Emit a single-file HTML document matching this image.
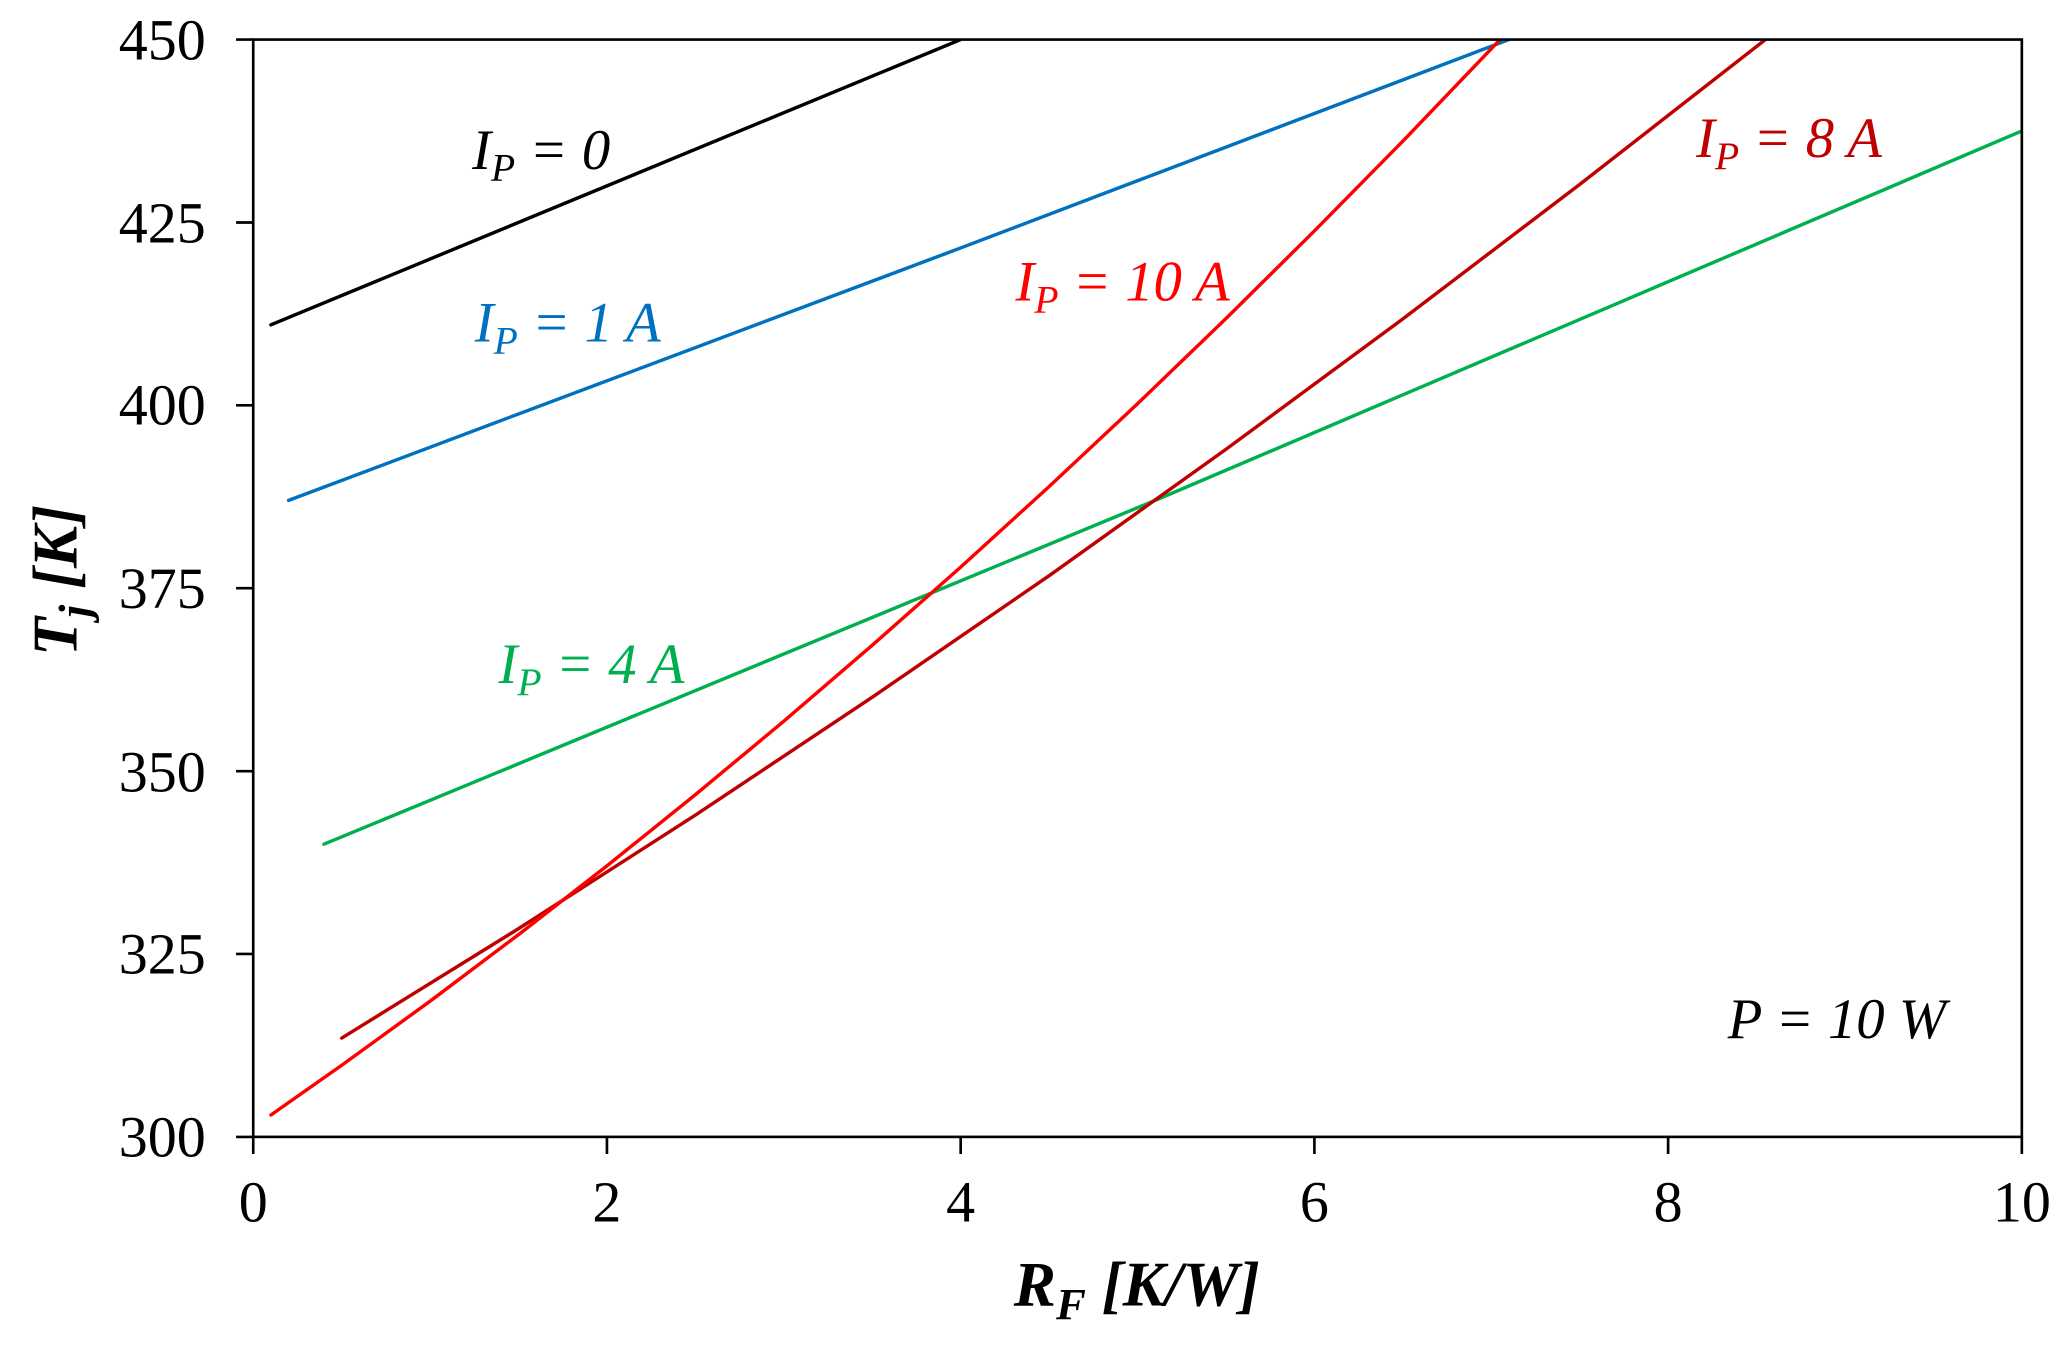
<!DOCTYPE html>
<html><head><meta charset="utf-8"><style>html,body{margin:0;padding:0;background:#fff}</style></head>
<body>
<svg width="2068" height="1340" viewBox="0 0 1568 1016" preserveAspectRatio="none" xmlns="http://www.w3.org/2000/svg" style="font-family:'Liberation Serif',serif">
<rect width="1568" height="1016" fill="#fff"/>
<defs><clipPath id="c"><rect x="192" y="30" width="1341" height="832"/></clipPath></defs>
<g clip-path="url(#c)" fill="none" stroke-width="2.6" stroke-linejoin="round" stroke-linecap="round">
<polyline stroke="#000" points="205.4,246.3 728.4,30"/>
<polyline stroke="#0070c0" points="218.8,379.4 728.4,188 1144.1,30"/>
<polyline stroke="#00b050" points="245.6,640.1 875.9,379.4 1533,99.3"/>
<polyline stroke="#c00000" points="259.1,787.1 393.2,704.1 527.3,618 661.4,528.6 795.5,436.5 929.6,340.6 1063.7,241.8 1197.8,139.8 1338.6,30"/>
<polyline stroke="#ff0000" points="205.4,845.4 259.1,807.7 326.1,759.1 393.2,708.6 460.2,656.5 527.3,602.5 594.3,546.8 661.4,489.2 728.4,430 795.5,368.9 862.5,306.1 929.6,241.5 996.6,175.1 1063.7,107 1137.4,30"/>
</g>
<g stroke="#000" stroke-width="2" fill="none">
<rect x="192" y="30" width="1341" height="832"/>
<path d="M179 30H192M179 168.7H192M179 307.3H192M179 446H192M179 584.7H192M179 723.3H192M179 862H192"/>
<path d="M192 862V875M460.2 862V875M728.4 862V875M996.6 862V875M1264.8 862V875M1533 862V875"/>
</g>
<g font-size="44" text-anchor="end" fill="#000">
<text x="156" y="45">450</text><text x="156" y="184">425</text><text x="156" y="322">400</text>
<text x="156" y="461">375</text><text x="156" y="600">350</text><text x="156" y="738">325</text><text x="156" y="877">300</text>
</g>
<g font-size="44" text-anchor="middle" fill="#000">
<text x="192" y="926">0</text><text x="460.2" y="926">2</text><text x="728.4" y="926">4</text>
<text x="996.6" y="926">6</text><text x="1264.8" y="926">8</text><text x="1533" y="926">10</text>
</g>
<text x="862" y="990" font-size="48" font-weight="bold" font-style="italic" text-anchor="middle">R<tspan font-size="34" dy="10">F</tspan><tspan dy="-10"> [K/W]</tspan></text>
<text transform="translate(58,440) rotate(-90)" font-size="48" font-weight="bold" font-style="italic" text-anchor="middle">T<tspan font-size="34" dy="10">j</tspan><tspan dy="-10"> [K]</tspan></text>
<g font-size="43" font-style="italic">
<text x="358" y="128" fill="#000">I<tspan font-size="30" dy="9">P</tspan><tspan dy="-9"> = 0</tspan></text>
<text x="360" y="259" fill="#0070c0">I<tspan font-size="30" dy="9">P</tspan><tspan dy="-9"> = 1 A</tspan></text>
<text x="770" y="228" fill="#ff0000">I<tspan font-size="30" dy="9">P</tspan><tspan dy="-9"> = 10 A</tspan></text>
<text x="1286" y="119" fill="#c00000">I<tspan font-size="30" dy="9">P</tspan><tspan dy="-9"> = 8 A</tspan></text>
<text x="378" y="518" fill="#00b050">I<tspan font-size="30" dy="9">P</tspan><tspan dy="-9"> = 4 A</tspan></text>
<text x="1310" y="787" fill="#000">P = 10 W</text>
</g>
</svg>
</body></html>
